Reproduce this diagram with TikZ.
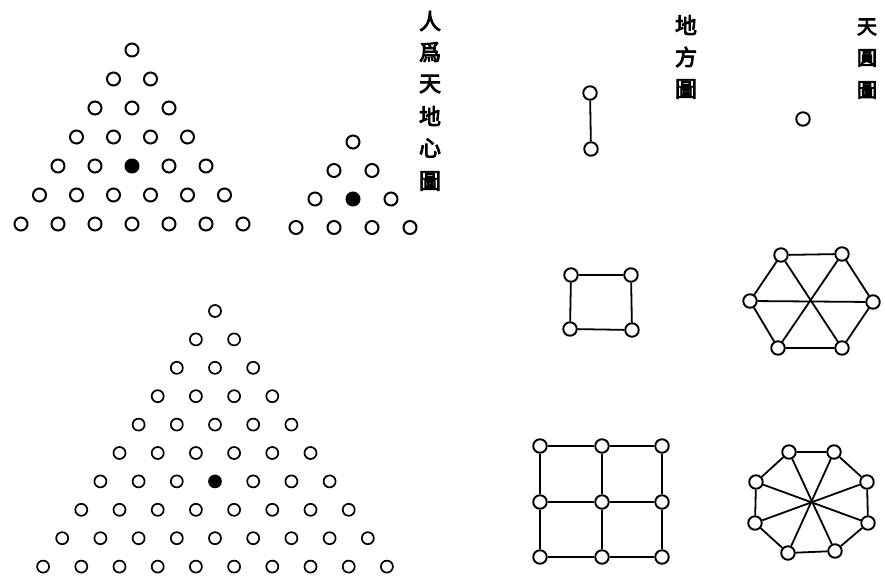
\documentclass[tikz,border=0pt]{standalone}
\usepackage{fontspec}
\newfontfamily\cjk[FakeBold=4]{Noto Sans CJK TC}
\begin{document}
\begin{tikzpicture}[x=1pt,y=-1pt,
  dot/.style={circle,draw=black,fill=white,line width=2pt,minimum size=13pt,inner sep=0pt},
  sdot/.style={dot,minimum size=12pt,line width=1.7pt},
  fdot/.style={dot,fill=black},
  sfdot/.style={sdot,fill=black},
  gdot/.style={dot,minimum size=13.5pt,line width=1.9pt},
  link/.style={line width=1.8pt},
  zi/.style={font=\cjk\fontsize{22}{22}\selectfont,inner sep=0pt},
  zis/.style={font=\cjk\fontsize{20}{20}\selectfont,inner sep=0pt}]
\useasboundingbox (0,0) rectangle (885,577);
% top-left triangle
\foreach \r in {1,...,7}{
  \foreach \k in {1,...,\r}{
    \pgfmathsetmacro{\xx}{132+(\k-(\r+1)/2)*37}
    \pgfmathsetmacro{\yy}{50+(\r-1)*29}
    \ifnum\r=5 \ifnum\k=3
      \node[fdot] (a-\r-\k) at (\xx,\yy) {};
    \else
      \node[dot] (a-\r-\k) at (\xx,\yy) {};
    \fi\else
      \node[dot] (a-\r-\k) at (\xx,\yy) {};
    \fi
  }
}
% small triangle
\foreach \r in {1,...,4}{
  \foreach \k in {1,...,\r}{
    \pgfmathsetmacro{\xx}{353+(\k-(\r+1)/2)*38}
    \pgfmathsetmacro{\yy}{142+(\r-1)*28.5}
    \ifnum\r=3 \ifnum\k=2
      \node[fdot] (b-\r-\k) at (\xx,\yy) {};
    \else
      \node[dot] (b-\r-\k) at (\xx,\yy) {};
    \fi\else
      \node[dot] (b-\r-\k) at (\xx,\yy) {};
    \fi
  }
}
% bottom triangle
\foreach \r in {1,...,10}{
  \foreach \k in {1,...,\r}{
    \pgfmathsetmacro{\xx}{215+(\k-(\r+1)/2)*38.2}
    \pgfmathsetmacro{\yy}{311+(\r-1)*28.4}
    \ifnum\r=7 \ifnum\k=4
      \node[sfdot] (c-\r-\k) at (\xx,\yy) {};
    \else
      \node[sdot] (c-\r-\k) at (\xx,\yy) {};
    \fi\else
      \node[sdot] (c-\r-\k) at (\xx,\yy) {};
    \fi
  }
}
% titles
\node[zi] (t1) at (430,21) {人};
\node[zi] (t2) at (430,52) {爲};
\node[zi] (t3) at (430,84) {天};
\node[zi] (t4) at (430,116) {地};
\node[zi] (t5) at (430,148) {心};
\node[zi] (t6) at (430,181) {圖};
\node[zi] (u1) at (686,25) {地};
\node[zi] (u2) at (686,57) {方};
\node[zi] (u3) at (686,89) {圖};
\node[zis] (v1) at (867,27) {天};
\node[zis] (v2) at (867,58) {圓};
\node[zis] (v3) at (867,90) {圖};
% dumbbell
\node[gdot] (d1) at (590,93) {};
\node[gdot] (d2) at (591,149) {};
\draw[link] (d1) -- (d2);
% single circle
\node[gdot] (s1) at (803,119) {};
% square
\node[gdot] (q1) at (571,275) {};
\node[gdot] (q2) at (631,275) {};
\node[gdot] (q3) at (632,330) {};
\node[gdot] (q4) at (570,329) {};
\draw[link] (q1) -- (q2) -- (q3) -- (q4) -- (q1);
% hexagon
\node[gdot] (h1) at (781,255) {};
\node[gdot] (h2) at (842,254) {};
\node[gdot] (h3) at (873,302) {};
\node[gdot] (h4) at (842,348) {};
\node[gdot] (h5) at (778,348) {};
\node[gdot] (h6) at (750,301) {};
\draw[link] (h1) -- (h2) -- (h3) -- (h4) -- (h5) -- (h6) -- (h1);
\draw[link] (h1) -- (h4);
\draw[link] (h2) -- (h5);
\draw[link] (h3) -- (h6);
% 3x3 grid
\foreach \i/\x in {1/540,2/602,3/662}{
  \foreach \j/\y in {1/446,2/502,3/557}{
    \node[gdot] (g-\i-\j) at (\x,\y) {};
  }
}
\foreach \j in {1,2,3}{
  \draw[link] (g-1-\j) -- (g-2-\j) -- (g-3-\j);
  \draw[link] (g-\j-1) -- (g-\j-2) -- (g-\j-3);
}
% octagon
\node[gdot] (o1) at (789,452) {};
\node[gdot] (o2) at (834,452) {};
\node[gdot] (o3) at (867,482) {};
\node[gdot] (o4) at (868,523) {};
\node[gdot] (o5) at (835,551) {};
\node[gdot] (o6) at (788,553) {};
\node[gdot] (o7) at (755,523) {};
\node[gdot] (o8) at (756,482) {};
\draw[link] (o1) -- (o2) -- (o3) -- (o4) -- (o5) -- (o6) -- (o7) -- (o8) -- (o1);
\draw[link] (o1) -- (o5);
\draw[link] (o2) -- (o6);
\draw[link] (o3) -- (o7);
\draw[link] (o4) -- (o8);
\end{tikzpicture}
\end{document}
